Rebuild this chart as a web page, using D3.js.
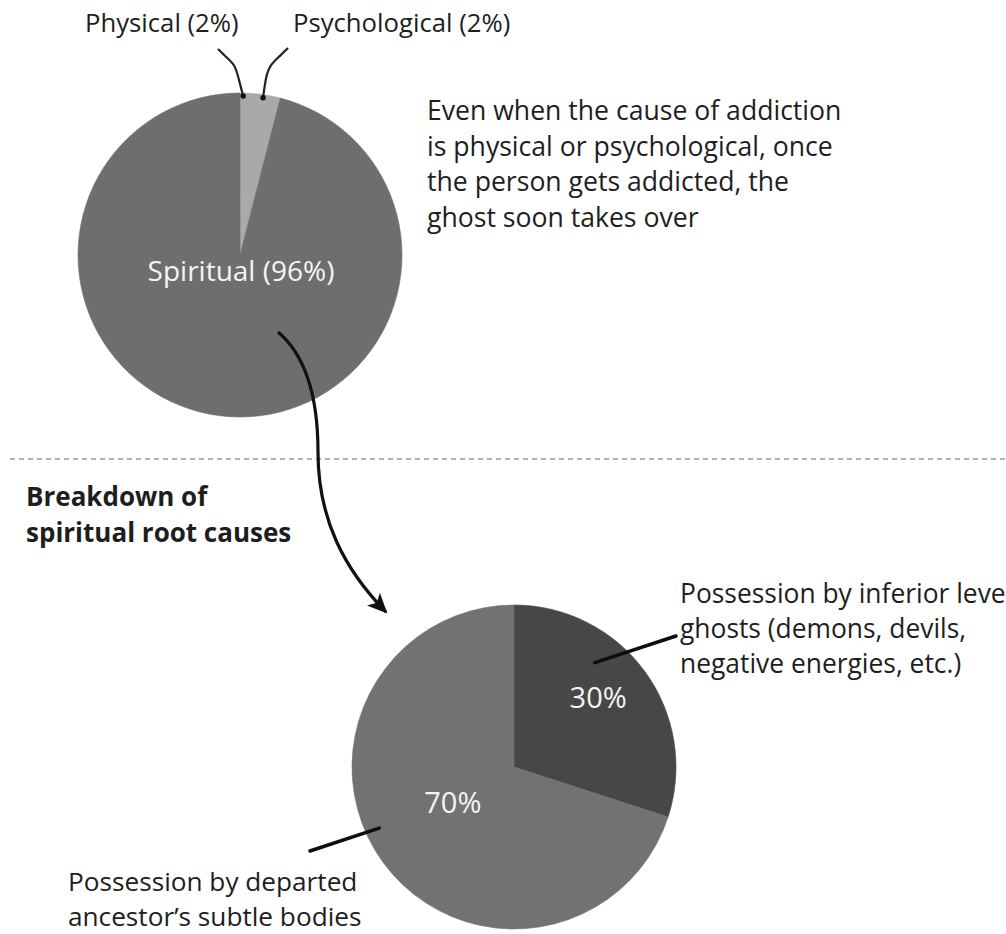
<!DOCTYPE html>
<html>
<head>
<meta charset="utf-8">
<script src="https://cdn.jsdelivr.net/npm/d3@7"></script>
<style>
  html, body { margin: 0; padding: 0; background: #fff; }
  svg { display: block; }
  text { font-family: "Open Sans", "Noto Sans", sans-serif; fill: #1e1e1e; }
</style>
</head>
<body>
<svg id="chart" width="1006" height="934"></svg>
<script>
// ---- data ----
const topCategories = ["Physical (2%)", "Psychological (2%)", "Spiritual (96%)"];
const topValues = [2, 2, 96];
const bottomCategories = ["30%", "70%"];
const bottomValues = [30, 70];
const noteLines = ["Even when the cause of addiction", "is physical or psychological, once", "the person gets addicted, the", "ghost soon takes over"];
const headingLines = ["Breakdown of", "spiritual root causes"];
const inferiorLines = ["Possession by inferior level", "ghosts (demons, devils,", "negative energies, etc.)"];
const ancestorLines = ["Possession by departed", "ancestor\u2019s subtle bodies"];

// ---- layout ----
const svg = d3.select("#chart");
const W = 1006, H = 934;

const topC = {x: 240, y: 255, r: 162};
const botC = {x: 514, y: 767, r: 162};
const topColors = d3.scaleOrdinal().domain(topCategories).range(["#a9a9a9", "#a9a9a9", "#6e6e6e"]);
const botColors = d3.scaleOrdinal().domain(bottomCategories).range(["#474747", "#727272"]);

const pie = d3.pie().sort(null).value(d => d.v);

// arrow marker
const defs = svg.append("defs");
defs.append("marker")
  .attr("id", "ah").attr("viewBox", "-2 -10 24 20")
  .attr("refX", 18).attr("refY", 0)
  .attr("markerWidth", 24).attr("markerHeight", 20)
  .attr("markerUnits", "userSpaceOnUse")
  .attr("orient", "auto")
  .append("path").attr("d", "M0,-9 L20,0 L0,9 L5,0 Z").attr("fill", "#111");

// ---- top pie ----
const topData = pie(topCategories.map((c, i) => ({c, v: topValues[i]})));
const topArc = d3.arc().innerRadius(0).outerRadius(topC.r);
const gTop = svg.append("g").attr("transform", `translate(${topC.x},${topC.y})`);
gTop.selectAll("path").data(topData).join("path")
  .attr("d", topArc)
  .attr("fill", d => topColors(d.data.c))
  .attr("stroke", d => topColors(d.data.c)).attr("stroke-width", 0.6);

// spiritual label
const spirit = topData[2];
const spiritPos = d3.arc().innerRadius(16).outerRadius(16).centroid(spirit);
gTop.append("text")
  .attr("x", 1).attr("y", spiritPos[1])
  .attr("text-anchor", "middle").attr("dy", "0.36em")
  .style("fill", "#f4f4f4").style("font-size", "28px")
  .text(spirit.data.c);

// small slice leaders
const leaderLine = d3.line().curve(d3.curveBasis);
const smallSlices = [
  {d: topData[0], label: [85, 32], pts: [[218, 49], [226, 57], [235, 65], [238, 76]]},
  {d: topData[1], label: [293, 32], pts: [[288, 48], [280, 56], [270, 65], [266, 76]]}
];
smallSlices.forEach(s => {
  const a = s.d.startAngle + 0.02;
  const px = topC.x + (topC.r - 3) * Math.sin(a);
  const py = topC.y - (topC.r - 3) * Math.cos(a);
  svg.append("path")
    .attr("d", leaderLine([...s.pts, [px, py]]))
    .attr("fill", "none").attr("stroke", "#222").attr("stroke-width", 2.2);
  svg.append("circle").attr("cx", px).attr("cy", py).attr("r", 2.7).attr("fill", "#111");
  svg.append("text").attr("x", s.label[0]).attr("y", s.label[1])
    .style("font-size", "25.7px").text(s.d.data.c);
});

// note text
const note = svg.append("text").style("font-size", "26.6px");
noteLines.forEach((t, i) => note.append("tspan").attr("x", 427).attr("y", 120 + i * 35.7).text(t));

// dashed separator
svg.append("line").attr("x1", 10).attr("x2", W).attr("y1", 459).attr("y2", 459)
  .attr("stroke", "#b3b3b3").attr("stroke-width", 2).attr("stroke-dasharray", "5,4");

// heading
const head = svg.append("text").style("font-size", "26px").style("font-weight", "bold");
headingLines.forEach((t, i) => head.append("tspan").attr("x", 26).attr("y", 506 + i * 36).text(t));

// ---- bottom pie ----
const botData = pie(bottomCategories.map((c, i) => ({c, v: bottomValues[i]})));
const botArc = d3.arc().innerRadius(0).outerRadius(botC.r);
const gBot = svg.append("g").attr("transform", `translate(${botC.x},${botC.y})`);
gBot.selectAll("path").data(botData).join("path")
  .attr("d", botArc)
  .attr("fill", d => botColors(d.data.c))
  .attr("stroke", d => botColors(d.data.c)).attr("stroke-width", 0.6);

// percentage labels placed on a ring inside each slice
const pctRadius = [109, 71];
const pctFrac = [0.468, 0.522];
gBot.selectAll("text.pct").data(botData).join("text")
  .attr("class", "pct")
  .each(function(d, i) {
    const a = d.startAngle + (d.endAngle - d.startAngle) * pctFrac[i];
    d3.select(this)
      .attr("x", pctRadius[i] * Math.sin(a))
      .attr("y", -pctRadius[i] * Math.cos(a));
  })
  .attr("dy", "0.36em")
  .attr("text-anchor", "middle")
  .style("fill", "#f4f4f4").style("font-size", "29px")
  .text(d => d.data.c);

// leaders in bottom pie
const botLeaders = [
  {d: botData[0], rIn: 132, frac: 0.35, outer: [676, 636]},
  {d: botData[1], rIn: 148, frac: 0.546, outer: [310, 851]}
];
botLeaders.forEach(s => {
  const a = s.d.startAngle + (s.d.endAngle - s.d.startAngle) * s.frac;
  const px = botC.x + s.rIn * Math.sin(a);
  const py = botC.y - s.rIn * Math.cos(a);
  svg.append("line").attr("x1", px).attr("y1", py).attr("x2", s.outer[0]).attr("y2", s.outer[1])
    .attr("stroke", "#0d0d0d").attr("stroke-width", 3.5).attr("stroke-linecap", "round");
});

// labels for bottom pie (the first line runs past the right edge, as in the original)
const inf = svg.append("text").style("font-size", "26.4px");
inferiorLines.forEach((t, i) => inf.append("tspan").attr("x", 680).attr("y", 603 + i * 35).text(t));
const anc = svg.append("text").style("font-size", "26.2px");
ancestorLines.forEach((t, i) => anc.append("tspan").attr("x", 68).attr("y", 891 + i * 35).text(t));

// curved arrow from top pie to bottom pie
const arrowPath = d3.path();
arrowPath.moveTo(278, 332);
arrowPath.bezierCurveTo(304, 354, 318, 392, 318, 452);
arrowPath.bezierCurveTo(318, 520, 345, 570, 386, 612);
svg.append("path").attr("d", arrowPath.toString())
  .attr("fill", "none").attr("stroke", "#111").attr("stroke-width", 3.2)
  .attr("marker-end", "url(#ah)");
</script>
</body>
</html>
